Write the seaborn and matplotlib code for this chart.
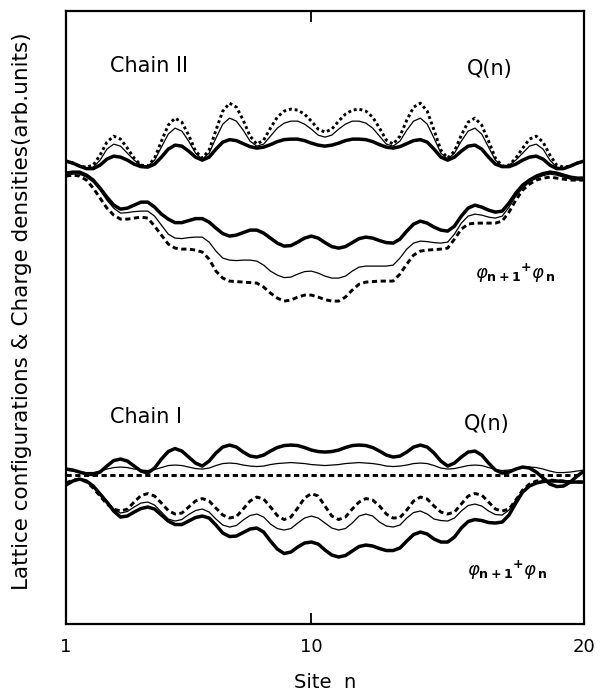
import numpy as np
import matplotlib
matplotlib.use("Agg")
import matplotlib.pyplot as plt
import seaborn as sns

# lattice sites sampled every quarter site
site = np.linspace(1, 20, 77)

# ---- Chain II : charge density Q(n) ----
q2_thick = [46.3, 46.1, 45.8, 45.55, 45.55, 45.9, 46.5, 46.8, 46.7, 46.4, 46.0, 45.75,
            45.7, 46.0, 46.7, 47.5, 47.9, 47.8, 47.3, 46.7, 46.4, 46.7, 47.5, 48.2,
            48.45, 48.35, 48.05, 47.75, 47.6, 47.7, 47.95, 48.25, 48.45, 48.5, 48.5, 48.35,
            48.1, 47.9, 47.8, 47.9, 48.1, 48.35, 48.5, 48.5, 48.45, 48.25, 47.95, 47.7,
            47.6, 47.75, 48.05, 48.35, 48.45, 48.2, 47.5, 46.7, 46.4, 46.7, 47.3, 47.8,
            47.9, 47.5, 46.7, 46.0, 45.75, 45.75, 46.0, 46.4, 46.7, 46.8, 46.5, 45.9,
            45.55, 45.55, 45.8, 46.1, 46.3]
q2_thin = [46.3, 46.1, 45.8, 45.6, 45.7, 46.4, 47.5, 48.0, 47.8, 47.1, 46.4, 45.9,
           45.8, 46.4, 47.7, 49.0, 49.6, 49.3, 48.3, 47.1, 46.5, 47.1, 48.6, 50.0,
           50.6, 50.3, 49.4, 48.3, 47.8, 48.0, 48.8, 49.6, 50.1, 50.3, 50.3, 50.0,
           49.5, 48.9, 48.7, 48.9, 49.5, 50.0, 50.3, 50.3, 50.1, 49.6, 48.8, 48.0,
           47.8, 48.3, 49.4, 50.3, 50.6, 50.0, 48.6, 47.1, 46.5, 47.1, 48.3, 49.3,
           49.6, 49.0, 47.7, 46.4, 45.8, 45.9, 46.4, 47.1, 47.8, 48.0, 47.5, 46.4,
           45.7, 45.6, 45.8, 46.1, 46.3]
q2_dash = [46.3, 46.1, 45.8, 45.7, 45.9, 46.9, 48.2, 48.8, 48.5, 47.6, 46.6, 45.9,
           45.8, 46.6, 48.3, 49.9, 50.6, 50.2, 48.9, 47.3, 46.6, 47.4, 49.4, 51.3,
           52.1, 51.7, 50.4, 48.8, 48.0, 48.4, 49.6, 50.7, 51.3, 51.5, 51.4, 51.0,
           50.3, 49.5, 49.2, 49.5, 50.3, 51.0, 51.4, 51.5, 51.3, 50.7, 49.6, 48.4,
           48.0, 48.8, 50.4, 51.7, 52.1, 51.3, 49.4, 47.4, 46.6, 47.3, 48.9, 50.2,
           50.6, 49.9, 48.3, 46.6, 45.8, 45.9, 46.6, 47.6, 48.5, 48.8, 48.2, 46.9,
           45.9, 45.7, 45.8, 46.1, 46.3]

# ---- Chain II : lattice configuration phi(n+1)+phi(n) ----
p2_thick = [45.1, 45.2, 45.2, 44.9, 44.4, 43.6, 42.7, 41.9, 41.5, 41.6, 41.9, 42.2,
            42.2, 41.7, 41.0, 40.5, 40.15, 40.15, 40.35, 40.55, 40.55, 40.2, 39.6, 39.05,
            38.8, 38.9, 39.15, 39.4, 39.4, 39.1, 38.6, 38.1, 37.8, 37.85, 38.2, 38.6,
            38.8, 38.6, 38.15, 37.75, 37.6, 37.75, 38.15, 38.55, 38.7, 38.6, 38.35, 38.15,
            38.1, 38.5, 39.3, 40.0, 40.3, 40.1, 39.7, 39.4, 39.3, 39.8, 40.8, 41.6,
            41.9, 41.7, 41.4, 41.2, 41.3, 42.1, 43.1, 43.9, 44.4, 44.8, 45.05, 45.2,
            45.1, 44.9, 44.7, 44.6, 44.6]
p2_thin = [44.9, 45.0, 45.0, 44.7, 44.2, 43.4, 42.4, 41.6, 41.1, 41.15, 41.25, 41.3,
           41.3, 40.8, 39.9, 39.0, 38.6, 38.55, 38.65, 38.7, 38.7, 38.2, 37.3, 36.6,
           36.4, 36.35, 36.4, 36.4, 36.3, 35.9, 35.3, 34.9, 34.65, 34.7, 35.0, 35.25,
           35.3, 35.1, 34.8, 34.6, 34.6, 34.8, 35.3, 35.7, 35.8, 35.8, 35.8, 35.8,
           35.9, 36.6, 37.5, 38.1, 38.3, 38.25, 38.15, 38.1, 38.2, 39.0, 40.1, 40.8,
           41.0, 40.9, 40.7, 40.6, 40.8, 41.7, 42.8, 43.6, 44.2, 44.6, 44.85, 45.0,
           44.9, 44.7, 44.5, 44.4, 44.4]
p2_dash = [44.8, 44.9, 44.8, 44.4, 43.6, 42.6, 41.6, 40.9, 40.5, 40.5, 40.6, 40.7,
           40.6, 39.8, 38.9, 38.0, 37.6, 37.5, 37.5, 37.4, 37.2, 36.5, 35.3, 34.6,
           34.3, 34.25, 34.2, 34.15, 34.1, 33.7, 33.1, 32.6, 32.3, 32.4, 32.7, 32.9,
           32.9, 32.7, 32.45, 32.3, 32.3, 32.7, 33.4, 34.0, 34.2, 34.25, 34.3, 34.3,
           34.3, 35.0, 36.0, 36.9, 37.3, 37.4, 37.45, 37.5, 37.6, 38.5, 39.5, 40.0,
           40.1, 40.1, 40.1, 40.1, 40.3, 41.2, 42.4, 43.4, 44.0, 44.4, 44.6, 44.7,
           44.6, 44.5, 44.4, 44.4, 44.4]

# ---- Chain I : charge density Q(n) ----
q1_thick = [15.5, 15.4, 15.2, 15.0, 14.95, 15.2, 15.8, 16.35, 16.5, 16.3, 15.8, 15.3,
            15.1, 15.6, 16.5, 17.25, 17.55, 17.3, 16.7, 16.1, 15.8, 16.3, 17.1, 17.7,
            17.9, 17.7, 17.2, 16.8, 16.7, 16.9, 17.3, 17.65, 17.85, 17.9, 17.85, 17.65,
            17.4, 17.25, 17.2, 17.25, 17.4, 17.65, 17.85, 17.9, 17.85, 17.65, 17.3, 16.9,
            16.7, 16.8, 17.2, 17.7, 17.9, 17.7, 17.1, 16.3, 15.8, 16.1, 16.7, 17.2,
            17.3, 16.9, 16.1, 15.4, 15.1, 15.2, 15.5, 15.7, 15.6, 15.2, 14.6, 14.0,
            13.75, 13.8, 14.2, 14.8, 15.3]
q1_thin = [15.4, 15.3, 15.2, 15.15, 15.15, 15.3, 15.5, 15.65, 15.7, 15.65, 15.5, 15.4,
           15.35, 15.45, 15.65, 15.85, 15.9, 15.85, 15.7, 15.55, 15.5, 15.6, 15.85, 16.05,
           16.1, 16.05, 15.9, 15.8, 15.75, 15.8, 15.95, 16.05, 16.1, 16.15, 16.1, 16.05,
           15.95, 15.9, 15.85, 15.9, 15.95, 16.05, 16.1, 16.15, 16.1, 16.05, 15.95, 15.8,
           15.75, 15.8, 15.9, 16.05, 16.1, 16.05, 15.85, 15.6, 15.5, 15.55, 15.7, 15.85,
           15.9, 15.85, 15.65, 15.45, 15.35, 15.4, 15.5, 15.65, 15.7, 15.65, 15.5, 15.3,
           15.15, 15.15, 15.2, 15.3, 15.4]
q1_dash_site = [1, 20]
q1_dash = [14.95, 14.95]

# ---- Chain I : lattice configuration phi(n+1)+phi(n) ----
p1_thick = [13.9, 14.3, 14.5, 14.3, 13.8, 13.0, 12.2, 11.3, 10.7, 10.8, 11.2, 11.55,
            11.7, 11.5, 10.9, 10.3, 9.95, 9.95, 10.3, 10.65, 10.8, 10.6, 9.9, 9.1,
            8.75, 8.8, 9.15, 9.5, 9.6, 9.2, 8.3, 7.5, 7.05, 7.2, 7.7, 8.1,
            8.2, 8.0, 7.4, 6.9, 6.7, 6.85, 7.3, 7.75, 7.9, 7.8, 7.55, 7.35,
            7.35, 7.6, 8.3, 8.95, 9.2, 9.0, 8.5, 8.2, 8.2, 8.7, 9.6, 10.25,
            10.45, 10.35, 10.15, 10.1, 10.2, 10.9, 12.1, 13.2, 13.8, 14.1, 14.25, 14.3,
            14.3, 14.25, 14.2, 14.2, 14.2]
p1_thin = [14.0, 14.35, 14.5, 14.3, 13.8, 13.1, 12.3, 11.5, 11.1, 11.25, 11.7, 12.1,
           12.2, 11.9, 11.2, 10.5, 10.3, 10.45, 10.95, 11.35, 11.5, 11.2, 10.5, 9.9,
           9.7, 9.85, 10.4, 10.85, 11.0, 10.7, 10.0, 9.55, 9.4, 9.55, 10.1, 10.6,
           10.8, 10.6, 10.1, 9.6, 9.4, 9.55, 10.1, 10.8, 11.0, 10.8, 10.2, 9.8,
           9.7, 9.9, 10.6, 11.15, 11.3, 11.0, 10.5, 10.35, 10.3, 10.6, 11.3, 11.85,
           12.0, 11.8, 11.3, 10.95, 10.9, 11.4, 12.4, 13.3, 13.9, 14.2, 14.3, 14.35,
           14.35, 14.3, 14.25, 14.2, 14.2]
p1_dash = [14.1, 14.4, 14.5, 14.2, 13.6, 12.8, 12.0, 11.5, 11.3, 11.5, 12.2, 12.85,
           13.05, 12.8, 12.1, 11.35, 11.0, 11.1, 11.7, 12.3, 12.55, 12.3, 11.6, 10.9,
           10.6, 10.75, 11.5, 12.3, 12.7, 12.5, 11.7, 10.85, 10.45, 10.7, 11.6, 12.6,
           13.05, 12.8, 11.8, 10.8, 10.45, 10.7, 11.5, 12.2, 12.55, 12.4, 11.8, 11.0,
           10.6, 10.65, 11.4, 12.3, 12.7, 12.5, 11.8, 11.2, 11.0, 11.2, 12.0, 12.8,
           13.05, 12.9, 12.2, 11.5, 11.3, 11.5, 12.4, 13.4, 14.0, 14.3, 14.4, 14.4,
           14.35, 14.3, 14.25, 14.2, 14.2]

xtick_values = [1, 10, 20]
xtick_labels = ["1", "10", "20"]

sns.set_theme(style="white")
plt.rcParams["font.family"] = ["DejaVu Sans"]
plt.rcParams["text.color"] = "black"
plt.rcParams["axes.labelcolor"] = "black"
plt.rcParams["xtick.color"] = "black"
plt.rcParams["ytick.color"] = "black"

fig = plt.figure(figsize=(6, 6.98), dpi=100)
ax = fig.add_axes([0.11, 0.106, 0.8633, 0.878])

THICK = dict(color="black", linewidth=2.5)
THIN = dict(color="black", linewidth=0.9)
DASH = dict(color="black", linewidth=2.1)


def draw(x, y, style, dashes=None):
    sns.lineplot(x=x, y=y, ax=ax, sort=False, estimator=None, **style)
    if dashes is not None:
        ax.lines[-1].set_dashes(dashes)


# Chain II
draw(site, q2_thick, THICK)
draw(site, q2_thin, THIN)
draw(site, q2_dash, DASH, dashes=(1.0, 1.0))
draw(site, p2_thick, THICK)
draw(site, p2_thin, THIN)
draw(site, p2_dash, DASH, dashes=(1.8, 1.2))

# Chain I
draw(site, q1_thick, THICK)
draw(site, q1_thin, THIN)
draw(q1_dash_site, q1_dash, DASH, dashes=(1.8, 1.2))
draw(site, p1_thick, THICK)
draw(site, p1_thin, THIN)
draw(site, p1_dash, DASH, dashes=(1.8, 1.2))

ax.set_xlim(1, 20)
ax.set_ylim(0, 61.3)
ax.set_xticks(xtick_values)
ax.set_xticklabels(xtick_labels, fontsize=13)
ax.set_yticks([])
ax.tick_params(axis="x", direction="in", length=8, width=1.3, top=True,
               bottom=True, pad=10, colors="black")
for sp in ax.spines.values():
    sp.set_visible(True)
    sp.set_color("black")
    sp.set_linewidth(1.6)

ax.set_xlabel("Site  n", fontsize=14, labelpad=12, color="black")
ax.set_ylabel("Lattice configurations & Charge densities(arb.units)",
              fontsize=15.5, labelpad=10, color="black")
ax.yaxis.set_label_coords(-0.066, 0.51)

txt = dict(fontsize=15, color="black", va="center")
ax.text(2.6, 55.8, "Chain II", ha="left", **txt)
ax.text(15.7, 55.5, "Q(n)", ha="left", **txt)
ax.text(2.6, 20.7, "Chain I", ha="left", **txt)
ax.text(15.6, 20.0, "Q(n)", ha="left", **txt)
phi = r"$\varphi_{\mathbf{n+1}}{}^{\mathbf{+}}\varphi_{\,\mathbf{n}}$"
ax.text(16.0, 35.1, phi, ha="left", fontsize=13, color="black", va="center")
ax.text(15.7, 5.4, phi, ha="left", fontsize=13, color="black", va="center")

fig.savefig("out.png", dpi=100)
